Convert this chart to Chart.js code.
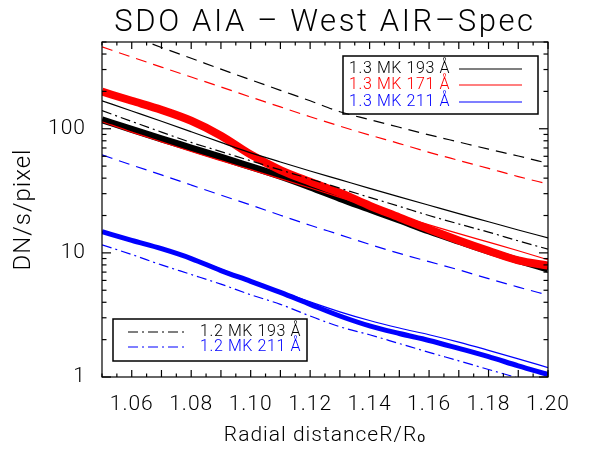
<!DOCTYPE html>
<html>
<head>
<meta charset="utf-8">
<script src="https://cdn.jsdelivr.net/npm/chart.js@4.4.0/dist/chart.umd.min.js"></script>
<style>
  html, body { margin: 0; padding: 0; background: #fff; }
  canvas { display: block; }
</style>
</head>
<body>
<canvas id="chart" width="595" height="449"></canvas>
<script>
// radial distance (R/Rsun) sample points
const radius = [1.05, 1.06, 1.07, 1.08, 1.09, 1.10, 1.11, 1.12, 1.13, 1.14, 1.15, 1.16, 1.17, 1.18, 1.19, 1.20];

// observed AIA intensities (thick symbol curves)
const obs193 = [118, 99, 83, 70, 59, 49.5, 41.5, 34, 27.5, 22.5, 18.4, 15, 12.4, 10.3, 8.7, 7.4];
const obs171 = [199, 168, 142, 116, 88, 62, 46.5, 37.4, 30.5, 24, 19.3, 15.5, 12.6, 10.4, 8.7, 7.9];
const obs211 = [14.8, 12.6, 10.8, 9.0, 7.2, 5.9, 4.8, 3.85, 3.1, 2.58, 2.24, 1.97, 1.70, 1.46, 1.23, 1.05];

// 1.3 MK models (solid)
const mk13_193 = [168, 139, 115, 94.6, 77.6, 64, 54, 45.7, 38.9, 33.1, 28.3, 24.2, 20.7, 17.8, 15.3, 13.2];
const mk13_171 = [114, 94, 78.5, 65.6, 55.3, 46.8, 39.5, 33.3, 28, 23.6, 19.9, 16.8, 14.3, 12.2, 10.4, 8.8];
const mk13_211 = [14.8, 12.6, 10.8, 9.1, 7.4, 6.0, 4.9, 4.03, 3.35, 2.85, 2.48, 2.19, 1.91, 1.64, 1.40, 1.19];

// dashed curves
const dash193 = [684, 556, 452, 370, 302, 248, 204, 168, 137, 118.6, 102.8, 89.3, 78.2, 68.5, 60.3, 52.7];
const dash171 = [457, 378, 314, 261, 217, 180, 150, 125, 105, 89, 76, 64.6, 55.6, 47.9, 41.2, 35.9];
const dash211 = [61.7, 51, 42.5, 35.2, 29.2, 24.3, 20.1, 16.7, 14.0, 11.7, 9.9, 8.5, 7.3, 6.2, 5.3, 4.57];

// 1.2 MK models (dash-dot)
const mk12_193 = [140, 114.5, 94, 77.6, 65.5, 55.2, 46.6, 39.4, 33.2, 28, 23.7, 20, 17.1, 14.7, 12.5, 10.7];
const mk12_211 = [11.6, 9.7, 8.0, 6.7, 5.6, 4.6, 3.85, 3.1, 2.54, 2.19, 1.86, 1.58, 1.35, 1.15, 0.98, 0.83];

const xTickValues = [1.06, 1.08, 1.10, 1.12, 1.14, 1.16, 1.18, 1.20];
const yTickValues = [1, 10, 100];

const TITLE = 'SDO AIA – West AIR–Spec';
const FONT = "Roboto, 'DejaVu Sans', sans-serif";
const DASH = [11, 7];
const DASHDOT = [10, 4, 2, 4];

const pts = vals => vals.map((v, i) => ({ x: radius[i], y: v }));

function series(vals, color, width, dash, order) {
    return {
        data: pts(vals),
        borderColor: color,
        backgroundColor: color,
        borderWidth: width,
        borderDash: dash,
        pointRadius: 0,
        fill: false,
        cubicInterpolationMode: 'monotone',
        order: order
    };
}

// wider letter spacing, closer to the IDL vector font
const spacing = {
    id: 'spacing',
    beforeDraw(chart) { chart.ctx.letterSpacing = '1px'; }
};

// title centred over the plot box
const plotTitle = {
    id: 'plotTitle',
    afterDraw(chart) {
        const { ctx, chartArea: a } = chart;
        ctx.save();
        ctx.letterSpacing = '2.6px';
        ctx.font = `300 31px ${FONT}`;
        ctx.fillStyle = '#000';
        ctx.textAlign = 'center';
        ctx.textBaseline = 'alphabetic';
        ctx.fillText(TITLE, (a.left + a.right) / 2, 31);
        ctx.restore();
    }
};

// frame + inward ticks on all four sides, IDL style
const frameTicks = {
    id: 'frameTicks',
    afterDatasetsDraw(chart) {
        const { ctx, chartArea: a, scales: { x, y } } = chart;
        ctx.save();
        ctx.strokeStyle = '#000';
        ctx.lineWidth = 1.2;
        ctx.setLineDash([]);
        ctx.strokeRect(a.left, a.top, a.right - a.left, a.bottom - a.top);

        const seg = (x1, y1, x2, y2) => { ctx.beginPath(); ctx.moveTo(x1, y1); ctx.lineTo(x2, y2); ctx.stroke(); };

        for (let i = 0; i <= 30; i++) {
            const v = 1.05 + i * 0.005;
            const px = x.getPixelForValue(v);
            const len = (i % 2 === 0 && i > 0) ? 7 : 3.5;
            seg(px, a.bottom, px, a.bottom - len);
            seg(px, a.top, px, a.top + len);
        }
        for (const dec of [1, 10, 100]) {
            for (let m = 1; m <= 9; m++) {
                const v = dec * m;
                if (v > 500) break;
                const py = y.getPixelForValue(v);
                const len = m === 1 ? 9 : 4.5;
                seg(a.left, py, a.left + len, py);
                seg(a.right, py, a.right - len, py);
            }
        }
        ctx.restore();
    }
};

// the two boxed legends
const boxLegends = {
    id: 'boxLegends',
    afterDraw(chart) {
        const { ctx } = chart;
        ctx.save();
        ctx.font = `300 16px ${FONT}`;
        ctx.letterSpacing = '0.6px';
        ctx.textBaseline = 'middle';
        ctx.textAlign = 'left';

        ctx.strokeStyle = '#000';
        ctx.lineWidth = 1.5;
        ctx.setLineDash([]);
        ctx.strokeRect(343, 56, 195, 58);
        const top = [['1.3 MK 193 Å', '#000000', 69], ['1.3 MK 171 Å', '#ff0000', 85], ['1.3 MK 211 Å', '#0000ff', 102]];
        top.forEach(([t, c, yy]) => {
            ctx.fillStyle = c;
            ctx.fillText(t, 349, yy);
            ctx.strokeStyle = c;
            ctx.lineWidth = 1.2;
            ctx.beginPath(); ctx.moveTo(459, yy); ctx.lineTo(522, yy); ctx.stroke();
        });

        ctx.strokeStyle = '#000';
        ctx.lineWidth = 1.5;
        ctx.strokeRect(113, 319, 194, 42);
        const bot = [['1.2 MK 193 Å', '#000000', 332], ['1.2 MK 211 Å', '#0000ff', 347]];
        bot.forEach(([t, c, yy]) => {
            ctx.fillStyle = c;
            ctx.fillText(t, 200, yy);
            ctx.strokeStyle = c;
            ctx.lineWidth = 1.2;
            ctx.setLineDash(DASHDOT);
            ctx.beginPath(); ctx.moveTo(128, yy); ctx.lineTo(188, yy); ctx.stroke();
            ctx.setLineDash([]);
        });
        ctx.restore();
    }
};

new Chart(document.getElementById('chart'), {
    type: 'line',
    data: {
        datasets: [
            series(obs193, '#000000', 7, [], 12),
            series(obs171, '#ff0000', 8, [], 11),
            series(obs211, '#0000ff', 5, [], 10),
            series(mk13_193, '#000000', 1.2, [], 5),
            series(mk13_171, '#ff0000', 1.2, [], 4),
            series(mk13_211, '#0000ff', 1.2, [], 6),
            series(dash193, '#000000', 1.2, DASH, 3),
            series(dash171, '#ff0000', 1.2, DASH, 3),
            series(dash211, '#0000ff', 1.2, DASH, 3),
            series(mk12_193, '#000000', 1.2, DASHDOT, 2),
            series(mk12_211, '#0000ff', 1.2, DASHDOT, 2)
        ]
    },
    options: {
        responsive: false,
        animation: false,
        devicePixelRatio: 1,
        layout: { padding: { left: 0, right: 47, top: 42, bottom: 0 } },
        plugins: {
            legend: { display: false },
            tooltip: { enabled: false },
            title: { display: false }
        },
        scales: {
            x: {
                type: 'linear',
                min: 1.05,
                max: 1.20,
                grid: { display: false },
                border: { display: false },
                afterBuildTicks: s => { s.ticks = xTickValues.map(v => ({ value: v })); },
                afterFit: s => { s.height = 72; },
                ticks: {
                    autoSkip: false,
                    maxRotation: 0,
                    padding: 7,
                    color: '#000',
                    font: { family: FONT, size: 21, weight: 300 },
                    callback: v => Number(v).toFixed(2)
                },
                title: {
                    display: true,
                    text: 'Radial distanceR/Rₒ',
                    color: '#000',
                    font: { family: FONT, size: 21, weight: 300 },
                    padding: { top: 0, bottom: 1 }
                }
            },
            y: {
                type: 'logarithmic',
                min: 1,
                max: 500,
                grid: { display: false },
                border: { display: false },
                afterBuildTicks: s => { s.ticks = yTickValues.map(v => ({ value: v })); },
                afterFit: s => { s.width = 102; },
                ticks: {
                    autoSkip: false,
                    padding: 8,
                    color: '#000',
                    font: { family: FONT, size: 21, weight: 300 },
                    callback: v => String(v)
                },
                title: {
                    display: true,
                    text: 'DN/s/pixel',
                    color: '#000',
                    font: { family: FONT, size: 24, weight: 300 },
                    padding: { top: 10, bottom: 0 }
                }
            }
        }
    },
    plugins: [spacing, frameTicks, boxLegends, plotTitle]
});
</script>
</body>
</html>
